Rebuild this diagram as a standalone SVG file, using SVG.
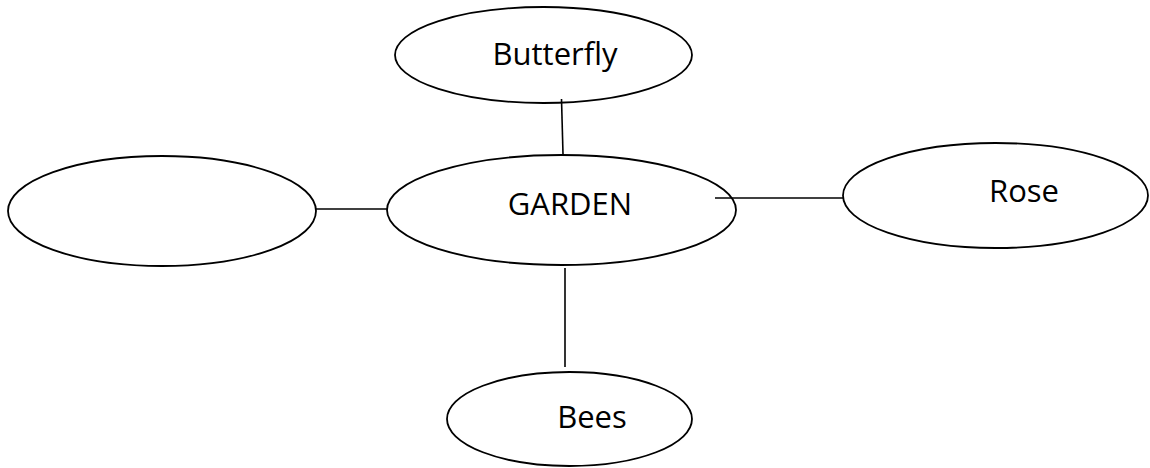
<svg xmlns="http://www.w3.org/2000/svg" width="1150" height="468" viewBox="0 0 1150 468">
<style>
.node{fill:#fff;stroke:#000;stroke-width:1.8}
.lbl{font-family:"Open Sans","Liberation Sans",sans-serif;font-size:31px;fill:#000;text-anchor:middle}
.edge{stroke:#000;stroke-width:1.6;fill:none}
</style>
<rect width="1150" height="468" fill="#fff"/>
<g id="garden">
<ellipse class="node" cx="561.5" cy="210" rx="174.5" ry="55"/>
<text class="lbl" x="570" y="215">GARDEN</text>
</g>
<g id="butterfly">
<ellipse class="node" cx="543.5" cy="55" rx="148.5" ry="48"/>
<text class="lbl" x="555" y="65">Butterfly</text>
</g>
<g id="rose">
<ellipse class="node" cx="995.5" cy="195.5" rx="152.5" ry="52.5"/>
<text class="lbl" x="1024" y="202">Rose</text>
</g>
<g id="blank">
<ellipse class="node" cx="162" cy="211" rx="154" ry="55"/>
</g>
<g id="bees">
<ellipse class="node" cx="569.5" cy="419" rx="122.5" ry="47"/>
<text class="lbl" x="592" y="428">Bees</text>
</g>
<g id="connectors">
<line class="edge" x1="561.5" y1="99" x2="563" y2="154"/>
<line class="edge" x1="715" y1="198" x2="843" y2="198"/>
<line class="edge" x1="316" y1="209" x2="388" y2="209"/>
<line class="edge" x1="565" y1="268" x2="565" y2="367"/>
</g>
</svg>
